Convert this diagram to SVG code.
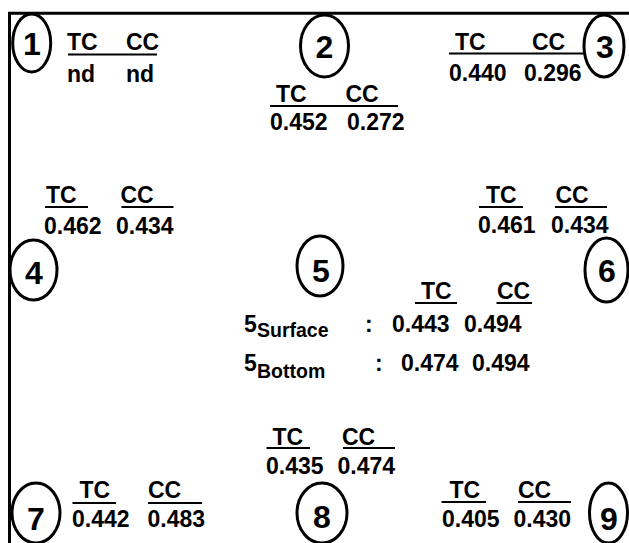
<svg xmlns="http://www.w3.org/2000/svg" width="629" height="543" viewBox="0 0 629 543">
<style>
text{font-family:"Liberation Sans",Arial,sans-serif;font-weight:bold;fill:#000}
.v{font-size:23px}
.n{font-size:32px;text-anchor:middle}
.s{font-size:19.5px}
.c{fill:none;stroke:#000;stroke-width:3}
.u{stroke:#000;stroke-width:2}
.b{stroke:#000;stroke-width:3;fill:none}
</style>
<rect width="629" height="543" fill="#fff"/>
<g id="frame"><path class="b" d="M9.5,543 V13.3 H629"/></g>
<g id="connectors"></g>
<g id="node1">
<ellipse class="c" cx="31.7" cy="43" rx="19" ry="29"/>
<text class="n" x="32" y="55">1</text>
<text class="v" x="67" y="50">TC</text><text class="v" x="126" y="50">CC</text>
<line class="u" x1="68" y1="54.5" x2="157" y2="54.5"/>
<text class="v" x="67" y="82">nd</text><text class="v" x="126" y="82">nd</text>
</g>
<g id="node2">
<ellipse class="c" cx="324.5" cy="46" rx="24" ry="31"/>
<text class="n" x="324.5" y="57.5">2</text>
<text class="v" x="276" y="101.5">TC</text><text class="v" x="345.5" y="101.5">CC</text>
<line class="u" x1="270" y1="106" x2="398" y2="106"/>
<text class="v" x="270" y="130">0.452</text><text class="v" x="347" y="130">0.272</text>
</g>
<g id="node3">
<ellipse class="c" cx="604" cy="46" rx="20" ry="31"/>
<text class="n" x="605" y="57.5">3</text>
<text class="v" x="455" y="50">TC</text><text class="v" x="532" y="50">CC</text>
<line class="u" x1="449" y1="53.5" x2="586" y2="53.5"/>
<text class="v" x="449" y="81">0.440</text><text class="v" x="524" y="81">0.296</text>
</g>
<g id="node4">
<ellipse class="c" cx="33.5" cy="270" rx="23.5" ry="30"/>
<text class="n" x="34" y="283.5">4</text>
<text class="v" x="46" y="203">TC</text><text class="v" x="120.5" y="203">CC</text>
<line class="u" x1="45" y1="207" x2="88" y2="207"/>
<line class="u" x1="121.5" y1="207" x2="173.5" y2="207"/>
<text class="v" x="44" y="234">0.462</text><text class="v" x="116" y="234">0.434</text>
</g>
<g id="node5">
<ellipse class="c" cx="320" cy="266" rx="23" ry="30"/>
<text class="n" x="321" y="282">5</text>
<text class="v" x="421" y="299">TC</text><text class="v" x="497" y="299">CC</text>
<line class="u" x1="415" y1="303" x2="457" y2="303"/>
<line class="u" x1="496.5" y1="303" x2="532" y2="303"/>
<text class="v" x="244" y="331.5">5</text><text class="s" x="257" y="336.5">Surface</text>
<text class="v" x="365" y="331.5">:</text>
<text class="v" x="392" y="331.5">0.443</text><text class="v" x="464" y="331.5">0.494</text>
<text class="v" x="244" y="370.5">5</text><text class="s" x="257" y="378">Bottom</text>
<text class="v" x="375" y="370.5">:</text>
<text class="v" x="401" y="370.5">0.474</text><text class="v" x="472" y="370.5">0.494</text>
</g>
<g id="node6">
<ellipse class="c" cx="606.5" cy="270" rx="21.5" ry="32"/>
<text class="n" x="607" y="281.5">6</text>
<text class="v" x="486" y="203">TC</text><text class="v" x="555.5" y="203">CC</text>
<line class="u" x1="479" y1="207" x2="523" y2="207"/>
<line class="u" x1="555" y1="207" x2="607" y2="207"/>
<text class="v" x="478" y="233">0.461</text><text class="v" x="551" y="233">0.434</text>
</g>
<g id="node7">
<ellipse class="c" cx="36" cy="513" rx="24" ry="30"/>
<text class="n" x="36" y="530">7</text>
<text class="v" x="79.5" y="498">TC</text><text class="v" x="148" y="498">CC</text>
<line class="u" x1="72.5" y1="503" x2="116" y2="503"/>
<line class="u" x1="148" y1="503" x2="202" y2="503"/>
<text class="v" x="72" y="527">0.442</text><text class="v" x="147.5" y="527">0.483</text>
</g>
<g id="node8">
<ellipse class="c" cx="322" cy="513" rx="25" ry="30"/>
<text class="n" x="322" y="527.5">8</text>
<text class="v" x="272.5" y="445">TC</text><text class="v" x="342" y="445">CC</text>
<line class="u" x1="266.5" y1="448" x2="310" y2="448"/>
<line class="u" x1="343" y1="448" x2="395" y2="448"/>
<text class="v" x="266" y="474">0.435</text><text class="v" x="337.5" y="474">0.474</text>
</g>
<g id="node9">
<ellipse class="c" cx="608.5" cy="513" rx="19" ry="30"/>
<text class="n" x="609" y="530">9</text>
<text class="v" x="449.5" y="498">TC</text><text class="v" x="518" y="498">CC</text>
<line class="u" x1="441.5" y1="502" x2="486" y2="502"/>
<line class="u" x1="518" y1="502" x2="571" y2="502"/>
<text class="v" x="442" y="527">0.405</text><text class="v" x="513.5" y="527">0.430</text>
</g>
</svg>
